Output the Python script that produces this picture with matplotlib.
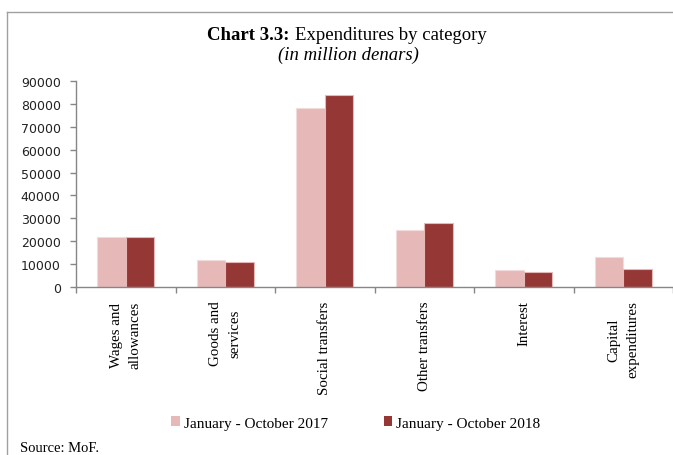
import numpy as np
import matplotlib.pyplot as plt
from matplotlib.lines import Line2D
from matplotlib.patches import Patch

# values in million denars
categories = [
    "Wages and\nallowances",
    "Goods and\nservices",
    "Social transfers",
    "Other transfers",
    "Interest",
    "Capital\nexpenditures",
]
jan_oct_2017 = [21900, 11800, 78400, 24900, 7200, 12900]
jan_oct_2018 = [21600, 11000, 83800, 28000, 6300, 7600]
series_names = ["January - October 2017", "January - October 2018"]
y_ticks = list(range(0, 90001, 10000))

SERIF = ["Liberation Serif", "DejaVu Serif"]
COLOR_2017 = "#E6B9B8"
COLOR_2018 = "#953735"
AXIS_GREY = "#868686"

fig = plt.figure(figsize=(6.73, 4.56), dpi=100)
ax = fig.add_axes([76 / 673, 1 - 287.7 / 456, 1 - 76 / 673, (287.7 - 82.3) / 456])

x = np.arange(len(categories))
w = 0.287
ax.bar(x - w / 2, jan_oct_2017, width=w, color=COLOR_2017, edgecolor="#F2DCDB", linewidth=0.8)
ax.bar(x + w / 2, jan_oct_2018, width=w, color=COLOR_2018, edgecolor="#E6B9B8", linewidth=0.8)

ax.set_xlim(-0.5, len(categories) - 0.5)
ax.set_ylim(0, 90000)
ax.set_yticks(y_ticks)
ax.set_yticklabels([str(t) for t in y_ticks], fontsize=9, family="DejaVu Sans", color="#222222")

# category labels at centres, tick marks at boundaries
ax.set_xticks(x)
ax.set_xticklabels(categories, rotation=90, va="top", ha="center",
                   multialignment="center", family=SERIF, fontsize=10.8, linespacing=1.6)
ax.set_xticks(np.arange(-0.5, len(categories), 1), minor=True)
ax.tick_params(axis="x", which="major", length=0, pad=10)
ax.tick_params(axis="x", which="minor", length=4, color=AXIS_GREY, width=1)
ax.tick_params(axis="y", length=4, color=AXIS_GREY, width=1, pad=7)

for side in ["top", "right"]:
    ax.spines[side].set_visible(False)
for side in ["left", "bottom"]:
    ax.spines[side].set_color(AXIS_GREY)
    ax.spines[side].set_linewidth(1)

# title: bold lead-in + regular text, centred as one line
t_bold = fig.text(0, 1 - 40 / 456, "Chart 3.3:", ha="left", va="baseline",
                  family=SERIF, fontsize=13.5, fontweight="bold")
t_rest = fig.text(0, 1 - 40 / 456, "Expenditures by category", ha="left", va="baseline",
                  family=SERIF, fontsize=13.5)
renderer = fig.canvas.get_renderer()
wb = t_bold.get_window_extent(renderer).width
wr = t_rest.get_window_extent(renderer).width
gap = 5
start = 347 - (wb + gap + wr) / 2
t_bold.set_x(start / 673)
t_rest.set_x((start + wb + gap) / 673)

fig.text(348 / 673, 1 - 60 / 456, "(in million denars)", ha="center", va="baseline",
         family=SERIF, fontsize=13.5, style="italic")

handles = [Patch(facecolor=COLOR_2017, edgecolor="none"),
           Patch(facecolor=COLOR_2018, edgecolor="none")]
fig.legend(handles, series_names, loc="center", bbox_to_anchor=(356 / 673, 1 - 424 / 456),
           ncol=2, frameon=False, handlelength=0.55, handleheight=0.55, handletextpad=0.3,
           columnspacing=3.6, prop={"family": SERIF, "size": 11})

fig.text(20 / 673, 1 - 449 / 456, "Source: MoF.", ha="left", va="center",
         family=SERIF, fontsize=10.5)

# frame border (left and top edges visible)
fig.add_artist(Line2D([7 / 673, 7 / 673], [0, 1 - 13 / 456], transform=fig.transFigure,
                      color="#A0A0A0", linewidth=1))
fig.add_artist(Line2D([7 / 673, 1], [1 - 13 / 456, 1 - 13 / 456], transform=fig.transFigure,
                      color="#A0A0A0", linewidth=1))

fig.savefig("out.png", dpi=100)
